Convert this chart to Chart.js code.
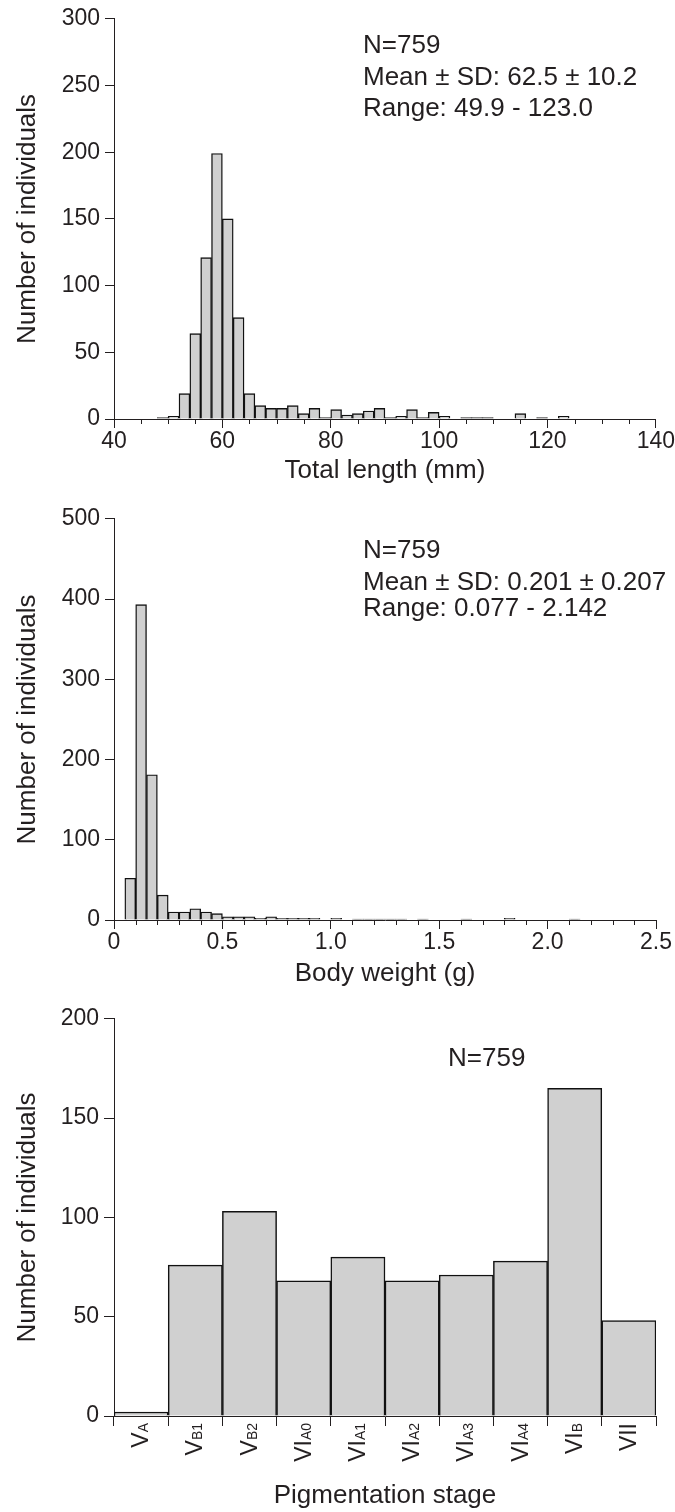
<!DOCTYPE html>
<html><head><meta charset="utf-8">
<script src="https://cdn.jsdelivr.net/npm/chart.js@4.4.1/dist/chart.umd.min.js"></script>
<style>
html,body{margin:0;padding:0;background:#fff;}
#wrap{position:relative;width:675px;height:1512px;overflow:hidden;font-family:"Liberation Sans",Arial,Helvetica,sans-serif;color:#231f20;}
.box{position:absolute;left:0;width:675px;}
.box canvas{display:block;}
.note{position:absolute;font-size:26px;line-height:26px;white-space:nowrap;}
</style></head><body>
<div id="wrap">
  <div class="box" style="top:0;height:500px"><canvas id="c1" width="675" height="500"></canvas></div>
  <div class="box" style="top:500px;height:500px"><canvas id="c2" width="675" height="500"></canvas></div>
  <div class="box" style="top:1000px;height:512px"><canvas id="c3" width="675" height="512"></canvas></div>
  <div class="note" style="left:363px;top:31px">N=759</div>
  <div class="note" style="left:363px;top:63px">Mean ± SD: 62.5 ± 10.2</div>
  <div class="note" style="left:363px;top:94px">Range: 49.9 - 123.0</div>
  <div class="note" style="left:363px;top:536px">N=759</div>
  <div class="note" style="left:363px;top:568px">Mean ± SD: 0.201 ± 0.207</div>
  <div class="note" style="left:363px;top:594px">Range: 0.077 - 2.142</div>
  <div class="note" style="left:448px;top:1044px">N=759</div>
</div>
<script>
// ---------- data ----------
// Total length histogram: bin centres (mm, 2 mm bins) and counts
const lengthBins = [49,51,53,55,57,59,61,63,65,67,69,71,73,75,77,79,81,83,85,87,89,91,93,95,97,99,101,103,105,107,109,111,113,115,117,119,121,123];
const lengthCounts = [1,2,19,64,121,199,150,76,19,10,8,8,10,4,8,1,7,3,4,6,8,1,2,7,1,5,2,0,1,1,1,0,0,4,0,1,0,2];
// Body weight histogram: bin centres (g, 0.05 g bins) and counts
const weightBins = [0.075,0.125,0.175,0.225,0.275,0.325,0.375,0.425,0.475,0.525,0.575,0.625,0.675,0.725,0.775,0.825,0.875,0.925,0.975,1.025,1.075,1.125,1.175,1.225,1.275,1.325,1.375,1.425,1.475,1.525,1.575,1.625,1.675,1.725,1.775,1.825,1.875,1.925,1.975,2.025,2.075,2.125];
const weightCounts = [52,393,181,31,10,10,14,10,8,4,4,4,2,4,2,2,2,2,0,2,0,1,1,1,1,1,0,1,0,0,0,1,0,0,0,2,0,0,0,0,0,1];
// Pigmentation stages
const stages = ['VA','VB1','VB2','VIA0','VIA1','VIA2','VIA3','VIA4','VIB','VII'];
const stageMain = ['V','V','V','VI','VI','VI','VI','VI','VI','VII'];
const stageSub  = ['A','B1','B2','A0','A1','A2','A3','A4','B',''];
const stageCounts = [2,76,103,68,80,68,71,78,165,48];
// axis titles
const yTitle = 'Number of individuals';
const xTitles = ['Total length (mm)','Body weight (g)','Pigmentation stage'];

// ---------- style ----------
const FONT = '"Liberation Sans", Arial, Helvetica, sans-serif';
const TXT = '#231f20';
const AXIS = '#231f20';
const FILL = '#d0d0d0';
Chart.defaults.font.family = FONT;
Chart.defaults.color = TXT;
Chart.defaults.animation = false;

function minorTickPlugin(isMajor, len){
  return {
    id: 'minorTicks',
    afterDraw(chart){
      const xs = chart.scales.x, ctx = chart.ctx;
      ctx.save();
      ctx.strokeStyle = AXIS; ctx.lineWidth = 1;
      xs.ticks.forEach(t => {
        if (isMajor(t.value)) return;
        const px = Math.round(xs.getPixelForValue(t.value)) + 0.5;
        ctx.beginPath(); ctx.moveTo(px, xs.top); ctx.lineTo(px, xs.top + len); ctx.stroke();
      });
      ctx.restore();
    }
  };
}

function yScale(max, step, tl){
  return {
    min: 0, max: max,
    afterFit(s){ s.width = 114; },
    ticks: { stepSize: step, font: { size: 23 }, color: TXT, padding: 5 },
    grid: { display: true, drawOnChartArea: false, drawTicks: true, tickLength: tl, tickColor: AXIS, tickWidth: 1 },
    border: { display: true, color: AXIS, width: 1 },
    title: { display: true, text: yTitle, font: { size: 26 }, color: TXT, padding: { top: 12, bottom: 0 } }
  };
}

function histogram(id, bins, counts, xopt){
  const isMajor = xopt.isMajor;
  return new Chart(document.getElementById(id), {
    type: 'bar',
    data: { datasets: [{
      data: bins.map((b, i) => ({ x: b, y: counts[i] })),
      backgroundColor: FILL, borderColor: '#111', borderWidth: 1.4,
      barPercentage: 1, categoryPercentage: 1, borderSkipped: 'bottom'
    }]},
    options: {
      responsive: false,
      layout: { padding: { top: xopt.top, right: 19, left: 0, bottom: 0 } },
      plugins: { legend: { display: false }, tooltip: { enabled: false } },
      scales: {
        x: {
          type: 'linear', min: xopt.min, max: xopt.max, offset: false,
          afterFit(s){ s.height = xopt.h; },
          ticks: { stepSize: xopt.step, autoSkip: false, maxRotation: 0, maxTicksLimit: 100,
                   font: { size: 23 }, color: TXT, padding: 0,
                   callback: v => isMajor(v) ? xopt.fmt(v) : '' },
          grid: { display: true, offset: false, drawOnChartArea: false, drawTicks: true, tickLength: 9,
                  tickColor: c => (c.tick && isMajor(c.tick.value)) ? AXIS : 'rgba(0,0,0,0)', tickWidth: 1 },
          border: { display: true, color: AXIS, width: 1 },
          title: { display: true, text: xopt.title, font: { size: 26 }, color: TXT, padding: { top: 0, bottom: xopt.tb } }
        },
        y: yScale(xopt.ymax, xopt.ystep, 9)
      }
    },
    plugins: [minorTickPlugin(isMajor, 5)]
  });
}

histogram('c1', lengthBins, lengthCounts, {
  min: 40, max: 140, step: 5, top: 16, h: 81, tb: 14, title: xTitles[0], ymax: 300, ystep: 50,
  isMajor: v => Math.round(v) % 20 === 0, fmt: v => String(Math.round(v))
});
histogram('c2', weightBins, weightCounts, {
  min: 0, max: 2.5, step: 0.1, top: 17, h: 80, tb: 11, title: xTitles[1], ymax: 500, ystep: 100,
  isMajor: v => Math.round(v * 10) % 5 === 0, fmt: v => (Math.abs(v) < 1e-9 ? '0' : v.toFixed(1))
});

const stageLabels = {
  id: 'stageLabels',
  afterDraw(chart){
    const xs = chart.scales.x, ctx = chart.ctx;
    ctx.save();
    ctx.fillStyle = TXT;
    ctx.textBaseline = 'alphabetic'; ctx.textAlign = 'left';
    stageMain.forEach((m, i) => {
      const cx = xs.getPixelForValue(i);
      const sub = stageSub[i];
      ctx.save();
      ctx.translate(cx + 7, xs.top + 7);
      ctx.rotate(-Math.PI / 2);
      ctx.font = '23px ' + FONT; const wm = ctx.measureText(m).width;
      ctx.font = '14px ' + FONT; const ws = sub ? ctx.measureText(sub).width : 0;
      const x0 = -(wm + ws);
      ctx.font = '23px ' + FONT; ctx.fillText(m, x0, 0);
      if (sub) { ctx.font = '14px ' + FONT; ctx.fillText(sub, x0 + wm, 0); }
      ctx.restore();
    });
    ctx.restore();
  }
};

new Chart(document.getElementById('c3'), {
  type: 'bar',
  data: { labels: stages, datasets: [{
    data: stageCounts, backgroundColor: FILL, borderColor: '#111', borderWidth: 1.5,
    barPercentage: 1, categoryPercentage: 1, borderSkipped: 'bottom'
  }]},
  options: {
    responsive: false,
    layout: { padding: { top: 15, right: 19, left: 0, bottom: 0 } },
    plugins: { legend: { display: false }, tooltip: { enabled: false } },
    scales: {
      x: {
        type: 'category', offset: true,
        afterFit(s){ s.height = 96; },
        ticks: { display: false },
        grid: { display: true, offset: true, drawOnChartArea: false, drawTicks: true, tickLength: 10, tickColor: AXIS, tickWidth: 1 },
        border: { display: true, color: AXIS, width: 1 },
        title: { display: true, text: xTitles[2], font: { size: 26 }, color: TXT, padding: { top: 0, bottom: 1 } }
      },
      y: yScale(200, 50, 10)
    }
  },
  plugins: [stageLabels]
});
</script>
</body></html>
